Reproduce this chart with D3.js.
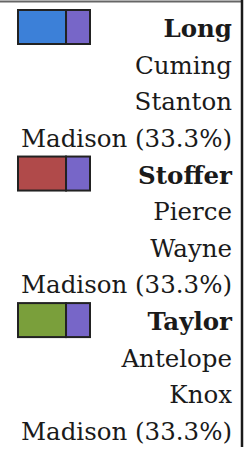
<!DOCTYPE html>
<html>
<head>
<meta charset="utf-8">
<script src="https://d3js.org/d3.v7.min.js"></script>
<style>
  body { margin: 0; background: #fff; }
  svg { display: block; }
</style>
</head>
<body>
<svg id="legend"></svg>
<script>
const width = 247, height = 450;

// Data
const candidates = ["Long", "Stoffer", "Taylor"];
const counties = [["Cuming", "Stanton"], ["Pierce", "Wayne"], ["Antelope", "Knox"]];
const sharedCounty = "Madison";
const sharedShare = 33.3;
const candidateColors = ["#3c80d8", "#b04a4a", "#7a9f3b"];
const sharedColor = "#7766c8";

// Build the text lines
const lines = [];
candidates.forEach((c, i) => {
    lines.push({ text: c, bold: true, group: i });
    counties[i].forEach(k => lines.push({ text: k, bold: false, group: i }));
    lines.push({ text: `${sharedCounty} (${sharedShare}%)`, bold: false, group: i });
});

const svg = d3.select("#legend")
    .attr("width", width)
    .attr("height", height);

svg.append("rect")
    .attr("width", width)
    .attr("height", height)
    .attr("fill", "#fff");

// Scales
const yScale = d3.scaleLinear()
    .domain([0, lines.length - 1])
    .range([37, 440]);

const xScale = d3.scaleLinear()
    .domain([0, 100])
    .range([18, 90]);

const colorScale = d3.scaleOrdinal()
    .domain(candidates)
    .range(candidateColors);

// Frame lines
svg.append("line")
    .attr("x1", 0).attr("x2", 243)
    .attr("y1", 1.5).attr("y2", 1.5)
    .attr("stroke", "#666")
    .attr("stroke-width", 2);

svg.append("line")
    .attr("x1", 242).attr("x2", 242)
    .attr("y1", 0).attr("y2", 447)
    .attr("stroke", "#1a1a1a")
    .attr("stroke-width", 2.5);

// Text lines
svg.selectAll("text.label")
    .data(lines)
    .join("text")
    .attr("class", "label")
    .attr("x", 232)
    .attr("y", (d, i) => yScale(i))
    .attr("text-anchor", "end")
    .attr("font-family", "'DejaVu Serif', serif")
    .attr("font-size", 24.5)
    .attr("font-weight", d => d.bold ? "bold" : "normal")
    .attr("fill", "#1a1a1a")
    .text(d => d.text);

// Swatches: candidate share vs shared county share
const segments = [];
candidates.forEach((c, i) => {
    const row = lines.findIndex(l => l.text === c);
    segments.push({ row, x0: 0, x1: 100 - sharedShare, color: colorScale(c) });
    segments.push({ row, x0: 100 - sharedShare, x1: 100, color: sharedColor });
});

svg.selectAll("rect.swatch")
    .data(segments)
    .join("rect")
    .attr("class", "swatch")
    .attr("x", d => xScale(d.x0))
    .attr("y", d => yScale(d.row) - 27)
    .attr("width", d => xScale(d.x1) - xScale(d.x0))
    .attr("height", 34)
    .attr("fill", d => d.color)
    .attr("stroke", "#222")
    .attr("stroke-width", 2);
</script>
</body>
</html>
